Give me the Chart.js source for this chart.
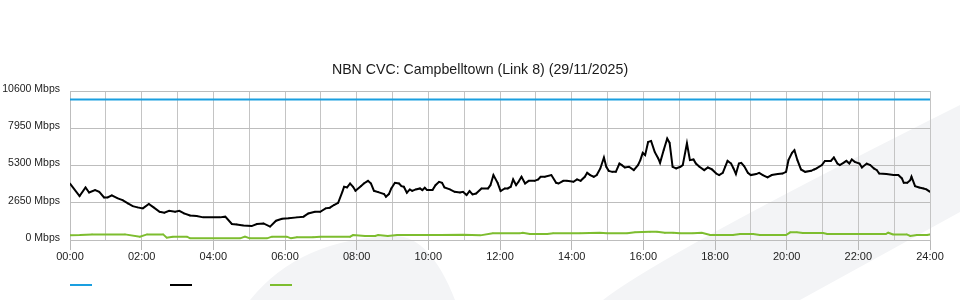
<!DOCTYPE html>
<html>
<head>
<meta charset="utf-8">
<script src="https://cdn.jsdelivr.net/npm/chart.js@4.4.1/dist/chart.umd.min.js"></script>
<style>
  html, body { margin: 0; padding: 0; background: #ffffff; }
  #wrap { width: 960px; height: 300px; }
</style>
</head>
<body>
<div id="wrap"><canvas id="c" width="960" height="300"></canvas></div>
<script>
// ---- Data (minutes since 00:00, Mbps) ----
const chartTitle = "NBN CVC: Campbelltown (Link 8) (29/11/2025)";
const timeLabels = ["00:00","02:00","04:00","06:00","08:00","10:00","12:00","14:00","16:00","18:00","20:00","22:00","24:00"];
const yTickLabels = ["0 Mbps","2650 Mbps","5300 Mbps","7950 Mbps","10600 Mbps"];

const capacityTimes = [0, 1440];
const capacityValues = [10000, 10000];

const downTimes = [0,16,26,32,42,49,57,63,70,80,88,97,105,113,122,132,140,150,158,166,176,183,191,201,212,223,251,260,271,279,290,304,313,324,335,345,355,366,380,391,399,410,419,428,435,442,449,456,459,464,469,474,478,487,492,499,504,509,516,526,529,534,538,544,551,555,559,564,569,573,579,586,590,594,598,607,612,618,623,627,636,644,653,658,664,669,674,680,689,700,704,709,716,721,728,733,738,742,747,751,756,762,768,778,784,788,795,806,814,818,826,832,843,849,855,862,866,871,877,882,888,894,898,902,908,914,920,924,929,936,944,951,955,959,963,968,973,979,985,988,994,1000,1004,1009,1015,1022,1026,1033,1038,1044,1048,1054,1062,1068,1075,1082,1087,1093,1097,1101,1107,1111,1115,1120,1124,1129,1135,1140,1149,1154,1160,1168,1175,1185,1193,1199,1203,1209,1213,1218,1224,1231,1241,1246,1250,1259,1264,1274,1279,1285,1289,1295,1300,1305,1309,1314,1322,1326,1334,1340,1346,1351,1355,1367,1379,1387,1393,1396,1402,1407,1409,1415,1422,1429,1434,1440];
const downValues = [4020,3120,3740,3380,3550,3430,3030,3030,3170,2960,2840,2600,2410,2320,2250,2560,2320,2010,1940,2080,2010,2080,1890,1740,1700,1610,1610,1660,1140,1110,1040,990,1140,1180,950,1370,1510,1540,1610,1660,1890,2010,2010,2250,2300,2490,2650,3430,3790,3740,4020,3790,3500,3830,4020,4210,4020,3500,3410,3270,3080,3270,3670,4070,4020,3830,3790,3360,3600,3500,3600,3670,3550,3720,3550,3550,3900,4140,4070,3740,3600,3430,3380,3430,3200,3480,3240,3310,3670,3670,3900,4620,4070,3480,3670,3670,3790,4310,3900,4140,4500,4020,4210,4210,4310,4500,4500,4620,4070,4020,4210,4210,4140,4310,4210,4500,4780,4620,4500,4620,5090,5870,5210,4920,4850,4850,5440,5330,5160,5210,4970,5330,5680,6200,6040,6980,7050,6270,5800,5490,6390,7220,6910,5210,5090,5210,5330,6880,5680,5730,5440,5210,4970,5160,5020,4730,4620,4780,5210,5630,5440,5090,4690,5440,5490,5250,4780,4620,4690,4780,4620,4450,4620,4690,4730,4850,5680,6200,6390,5680,5020,4850,4920,5020,5090,5330,5630,5630,5870,5440,5330,5490,5630,5440,5730,5560,5440,5160,5440,5330,5090,4970,4730,4690,4620,4620,4380,4070,4070,4260,4500,3830,3740,3670,3600,3430];

const upTimes = [0,17,37,92,117,129,156,162,172,196,201,285,293,301,330,338,363,370,380,407,419,469,474,494,511,516,532,548,620,658,687,708,753,758,770,799,809,854,887,899,933,946,971,983,996,1010,1021,1043,1058,1072,1110,1122,1144,1155,1199,1206,1217,1227,1261,1268,1366,1370,1378,1401,1407,1418,1435,1440];
const upValues = [330,350,400,400,237,400,400,166,237,237,118,118,237,118,118,237,237,118,190,190,237,237,355,284,284,355,284,355,355,380,330,473,473,520,426,426,473,473,520,473,473,544,592,592,520,520,473,473,520,355,355,426,426,355,355,544,544,497,497,426,426,520,400,400,284,355,355,400];

const seriesNames = ["Capacity", "Download", "Upload"];
const seriesColors = ["#1a9fe0", "#000000", "#7dbd2f"];

function toXY(times, values) { return times.map((t, i) => ({ x: t, y: values[i] })); }

Chart.defaults.font.family = "'Liberation Sans', Arial, sans-serif";

const watermark = {
  id: 'watermark',
  beforeDraw(chart) {
    const c = chart.ctx;
    c.save();
    c.fillStyle = '#f3f4f6';
    c.beginPath();
    c.moveTo(603, 300);
    c.quadraticCurveTo(660, 255, 960, 105);
    c.lineTo(960, 212);
    c.lineTo(800, 300);
    c.closePath();
    c.fill();
    c.beginPath();
    c.moveTo(250, 300);
    c.quadraticCurveTo(300, 238, 395, 236);
    c.quadraticCurveTo(430, 236, 455, 300);
    c.closePath();
    c.fill();
    c.restore();
  }
};

const lineLegend = {
  id: 'lineLegend',
  afterDraw(chart) {
    const c = chart.ctx;
    const left = chart.chartArea.left;
    c.save();
    c.lineWidth = 2;
    chart.data.datasets.forEach((ds, i) => {
      c.strokeStyle = ds.borderColor;
      c.beginPath();
      c.moveTo(left + i * 100, 285);
      c.lineTo(left + i * 100 + 22, 285);
      c.stroke();
    });
    c.restore();
  }
};

new Chart(document.getElementById('c'), {
  type: 'line',
  data: {
    datasets: [
      { label: seriesNames[0], data: toXY(capacityTimes, capacityValues), borderColor: seriesColors[0], borderWidth: 2, pointRadius: 0, fill: false },
      { label: seriesNames[1], data: toXY(downTimes, downValues), borderColor: seriesColors[1], backgroundColor: seriesColors[1], borderWidth: 2, pointRadius: 1, pointStyle: 'rect', pointBorderWidth: 0, fill: false, tension: 0 },
      { label: seriesNames[2], data: toXY(upTimes, upValues), borderColor: seriesColors[2], backgroundColor: seriesColors[2], borderWidth: 2, pointRadius: 1, pointStyle: 'rect', pointBorderWidth: 0, fill: false, tension: 0 }
    ]
  },
  options: {
    responsive: false,
    animation: false,
    layout: { padding: { left: 0, right: 0, top: 0, bottom: 0 } },
    plugins: {
      legend: { display: false },
      tooltip: { enabled: false },
      title: {
        display: true,
        text: chartTitle,
        color: '#1a1a1a',
        font: { size: 14.2, weight: 'normal' },
        padding: { top: 62, bottom: 12 }
      }
    },
    scales: {
      x: {
        type: 'linear',
        min: 0,
        max: 1440,
        afterFit(s) { s.height = 60; },
        ticks: {
          stepSize: 60,
          autoSkip: false,
          maxRotation: 0,
          color: '#222',
          font: { size: 11 },
          padding: 0,
          callback: (v) => (v % 120 === 0 ? timeLabels[v / 120] : '')
        },
        grid: {
          color: '#c4c4c4',
          lineWidth: 1,
          tickLength: 10,
          tickColor: (ctx) => (ctx.tick && ctx.tick.value % 120 === 0 ? '#b8b8b8' : 'rgba(0,0,0,0)')
        },
        border: { color: '#bdbdbd' }
      },
      y: {
        min: 0,
        max: 10600,
        afterFit(s) { s.width = 70; },
        ticks: {
          stepSize: 2650,
          color: '#222',
          font: { size: 10.5 },
          padding: 10,
          labelOffset: -2,
          callback: (v, i) => yTickLabels[i]
        },
        grid: { color: '#bdbdbd', lineWidth: 1, drawTicks: false },
        border: { color: '#bdbdbd' }
      },
      spacer: {
        type: 'linear',
        position: 'right',
        display: true,
        afterFit(s) { s.width = 30; },
        ticks: { display: false },
        grid: { display: false, drawOnChartArea: false },
        border: { display: false }
      }
    }
  },
  plugins: [watermark, lineLegend]
});
</script>
</body>
</html>
